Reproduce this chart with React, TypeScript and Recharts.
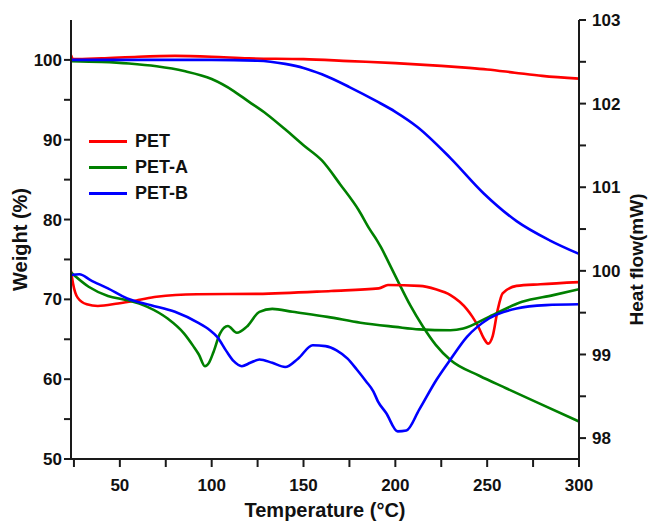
import { LineChart, Line, XAxis, YAxis, Legend } from 'recharts';

// TGA (weight %, left axis)
const tgaPetT = [23.4, 24.5, 40, 60, 80, 100, 120, 150, 175, 200, 225, 240, 250, 265, 280, 300];
const tgaPetW = [100.6, 100.1, 100.2, 100.4, 100.5, 100.4, 100.2, 100.1, 99.85, 99.6, 99.25, 99.0, 98.8, 98.4, 98.0, 97.65];

const tgaPetAT = [23.4, 40, 55, 70, 85, 100, 112, 120, 130, 140, 150, 160, 170, 180, 186, 190, 192, 196, 202, 208, 215, 222, 230, 246, 260, 278, 300];
const tgaPetAW = [99.85, 99.75, 99.55, 99.2, 98.6, 97.6, 96.1, 94.8, 93.2, 91.3, 89.3, 87.4, 84.4, 81.2, 78.8, 77.4, 76.6, 74.8, 72.0, 69.3, 66.6, 64.3, 62.4, 60.4, 58.9, 57.0, 54.7];

const tgaPetBT = [23.4, 50, 100, 125, 140, 150, 160, 175, 190, 200, 212, 230, 248, 266, 284, 300];
const tgaPetBW = [100, 100, 100, 99.9, 99.5, 99.0, 98.2, 96.6, 94.8, 93.5, 91.6, 87.7, 83.3, 79.8, 77.4, 75.7];

// DSC (heat flow mW, right axis)
const dscPetT = [23.4, 24.5, 27, 32, 38, 49, 60, 70, 92, 125, 165, 191, 196, 213, 222, 230, 235, 239, 242, 245, 248, 250.5, 253, 255.7, 258.4, 266, 279, 300];
const dscPetH = [100.0, 99.85, 99.68, 99.6, 99.58, 99.61, 99.65, 99.69, 99.72, 99.725, 99.76, 99.79, 99.83, 99.82, 99.78, 99.71, 99.63, 99.54, 99.45, 99.34, 99.2, 99.13, 99.22, 99.53, 99.73, 99.82, 99.84, 99.865];

const dscPetAT = [23.4, 33, 43.5, 54, 65, 76, 85, 90, 93, 96.3, 98.5, 101, 104.5, 108.8, 113.7, 119, 126, 133, 144, 163, 181, 200, 213, 230, 237, 251, 269, 286, 300];
const dscPetAH = [99.98, 99.81, 99.7, 99.65, 99.57, 99.43, 99.25, 99.1, 99.0, 98.86, 98.9, 99.03, 99.25, 99.34, 99.26, 99.33, 99.51, 99.545, 99.51, 99.45, 99.38, 99.33, 99.3, 99.29, 99.31, 99.45, 99.63, 99.71, 99.78];

const dscPetBT = [23.4, 28, 34, 43.5, 54, 67, 80, 92.5, 99, 103, 108, 112, 116.4, 121, 126, 133, 140, 147, 155, 162, 168, 174, 179, 184, 188, 190.5, 195, 201.3, 206, 213, 222.5, 230, 239, 251, 266, 282, 300];
const dscPetBH = [99.95, 99.96, 99.89, 99.79, 99.67, 99.59, 99.51, 99.38, 99.29, 99.21, 99.04, 98.92, 98.86, 98.9, 98.94, 98.9, 98.85, 98.95, 99.11, 99.1, 99.05, 98.95, 98.82, 98.68, 98.56, 98.44, 98.3, 98.08, 98.09, 98.34, 98.7, 98.94, 99.21, 99.43, 99.55, 99.59, 99.6];

const xTicks = [25, 50, 75, 100, 125, 150, 175, 200, 225, 250, 275, 300];
const weightTicks = [50, 55, 60, 65, 70, 75, 80, 85, 90, 95, 100];
const heatTicks = [98, 98.5, 99, 99.5, 100, 100.5, 101, 101.5, 102, 102.5, 103];

const legendNames = ['PET', 'PET-A', 'PET-B'];
const colors = ['#ff0000', '#008000', '#0000ff'];

const toPoints = (t: number[], v: number[]) => t.map((x, i) => ({ t: x, v: v[i] }));

const font = '"Liberation Sans", Arial, sans-serif';
const axisColor = '#1a1a1a';
const tickStyle = { fill: '#111', fontSize: 17, fontFamily: font, fontWeight: 'bold' };

function VTitle({ viewBox, value, dx, dy, size }: any) {
  const cx = viewBox.x + dx;
  const cy = viewBox.y + viewBox.height / 2 + dy;
  return (
    <text
      x={cx}
      y={cy}
      transform={`rotate(-90 ${cx} ${cy})`}
      textAnchor="middle"
      dominantBaseline="central"
      fill="#111"
      fontSize={size}
      fontWeight="bold"
      fontFamily={font}
    >
      {value}
    </text>
  );
}

function HTitle({ viewBox, value }: any) {
  return (
    <text
      x={viewBox.x + viewBox.width / 2}
      y={viewBox.y + viewBox.height - 12}
      textAnchor="middle"
      dominantBaseline="central"
      fill="#111"
      fontSize={20}
      fontWeight="bold"
      fontFamily={font}
    >
      {value}
    </text>
  );
}

const renderLegend = () => (
  <div>
    {legendNames.map((name, i) => (
      <div key={name} style={{ display: 'flex', alignItems: 'center', height: 26 }}>
        <span style={{ display: 'inline-block', width: 38, height: 3, background: colors[i] }} />
        <span style={{ marginLeft: 8, fontFamily: font, fontWeight: 'bold', fontSize: 18, color: '#111' }}>
          {name}
        </span>
      </div>
    ))}
  </div>
);

export default function App() {
  const series = [
    { id: 'tga-pet', axis: 'w', data: toPoints(tgaPetT, tgaPetW), color: colors[0] },
    { id: 'tga-peta', axis: 'w', data: toPoints(tgaPetAT, tgaPetAW), color: colors[1] },
    { id: 'tga-petb', axis: 'w', data: toPoints(tgaPetBT, tgaPetBW), color: colors[2] },
    { id: 'dsc-pet', axis: 'h', data: toPoints(dscPetT, dscPetH), color: colors[0] },
    { id: 'dsc-peta', axis: 'h', data: toPoints(dscPetAT, dscPetAH), color: colors[1] },
    { id: 'dsc-petb', axis: 'h', data: toPoints(dscPetBT, dscPetBH), color: colors[2] },
  ];

  return (
    <div style={{ position: 'absolute', left: 0, top: 0, background: '#fff' }}>
      <LineChart width={648} height={522} margin={{ top: 20, right: 0, bottom: 0, left: 0 }}>
        <XAxis
          dataKey="t"
          type="number"
          domain={[23.4, 300]}
          ticks={xTicks}
          tickFormatter={(v: number) => (v % 50 === 0 ? String(v) : '')}
          allowDataOverflow
          height={63}
          tickSize={8}
          tickMargin={12}
          tick={tickStyle}
          axisLine={{ stroke: axisColor, strokeWidth: 2 }}
          tickLine={{ stroke: axisColor, strokeWidth: 2 }}
          label={<HTitle value="Temperature (°C)" />}
        />
        <XAxis
          xAxisId="top"
          orientation="top"
          dataKey="t"
          type="number"
          domain={[23.4, 300]}
          height={0}
          tick={false}
          tickLine={false}
          axisLine={{ stroke: '#333', strokeWidth: 1.5 }}
        />
        <YAxis
          yAxisId="w"
          domain={[50, 105]}
          ticks={weightTicks}
          tickFormatter={(v: number) => (v % 10 === 0 ? String(v) : '')}
          allowDataOverflow
          width={71}
          tickSize={7}
          tickMargin={2}
          tick={tickStyle}
          axisLine={{ stroke: axisColor, strokeWidth: 2 }}
          tickLine={{ stroke: axisColor, strokeWidth: 2 }}
          label={<VTitle value="Weight (%)" dx={20} dy={0} size={20} />}
        />
        <YAxis
          yAxisId="h"
          orientation="right"
          domain={[97.75, 103]}
          ticks={heatTicks}
          tickFormatter={(v: number) => (Number.isInteger(v) ? String(v) : '')}
          allowDataOverflow
          width={69}
          tickSize={7}
          tickMargin={6}
          tick={tickStyle}
          axisLine={{ stroke: axisColor, strokeWidth: 2 }}
          tickLine={{ stroke: axisColor, strokeWidth: 2 }}
          label={<VTitle value="Heat flow(mW)" dx={57} dy={20} size={19} />}
        />
        <Legend
          layout="vertical"
          align="center"
          verticalAlign="middle"
          content={renderLegend}
          wrapperStyle={{ left: 89, top: 128, width: 'auto' }}
        />
        {series.map((s) => (
          <Line
            key={s.id}
            yAxisId={s.axis}
            data={s.data}
            dataKey="v"
            type="monotone"
            stroke={s.color}
            strokeWidth={2.6}
            dot={false}
            isAnimationActive={false}
            legendType="none"
          />
        ))}
      </LineChart>
    </div>
  );
}
